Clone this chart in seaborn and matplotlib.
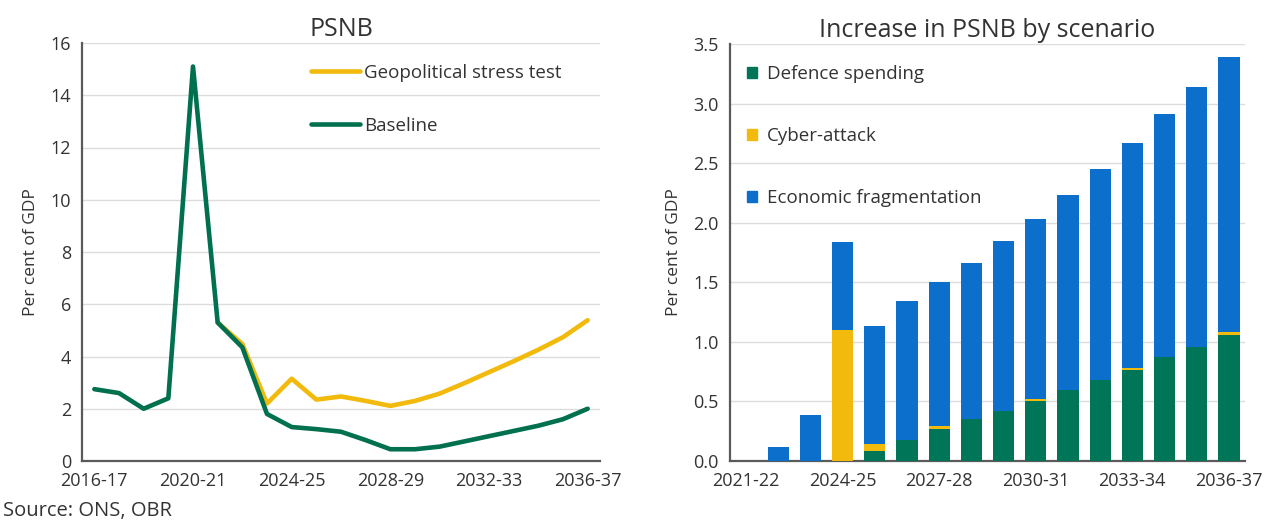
import numpy as np
import pandas as pd
import matplotlib
matplotlib.use("Agg")
import matplotlib.pyplot as plt
from matplotlib.lines import Line2D
from matplotlib.patches import Patch
import seaborn as sns

# ---------------- data ----------------
years_left = ["2016-17", "2017-18", "2018-19", "2019-20", "2020-21", "2021-22", "2022-23",
              "2023-24", "2024-25", "2025-26", "2026-27", "2027-28", "2028-29", "2029-30",
              "2030-31", "2031-32", "2032-33", "2033-34", "2034-35", "2035-36", "2036-37"]
baseline = [2.75, 2.6, 2.0, 2.4, 15.1, 5.3, 4.35, 1.8, 1.3, 1.22, 1.12, 0.8, 0.45, 0.45,
            0.55, 0.75, 0.95, 1.15, 1.35, 1.6, 2.0]
stress_years = years_left[5:]
stress = [5.3, 4.48, 2.2, 3.15, 2.35, 2.47, 2.3, 2.11, 2.3, 2.58, 2.98, 3.4, 3.82, 4.26,
          4.74, 5.39]
left_labels = ["2016-17", "2020-21", "2024-25", "2028-29", "2032-33", "2036-37"]

years_right = ["2021-22", "2022-23", "2023-24", "2024-25", "2025-26", "2026-27", "2027-28",
               "2028-29", "2029-30", "2030-31", "2031-32", "2032-33", "2033-34", "2034-35",
               "2035-36", "2036-37"]
defence = [0.0, 0.0, 0.0, 0.0, 0.08, 0.18, 0.27, 0.35, 0.42, 0.5, 0.6, 0.68, 0.76, 0.87, 0.96, 1.06]
cyber = [0.0, 0.0, 0.0, 1.1, 0.06, 0.0, 0.02, 0.0, 0.0, 0.02, 0.0, 0.0, 0.02, 0.0, 0.0, 0.02]
fragmentation = [0.0, 0.12, 0.39, 0.74, 0.99, 1.16, 1.21, 1.31, 1.43, 1.51, 1.63, 1.77, 1.89,
                 2.04, 2.18, 2.31]
right_labels = ["2021-22", "2024-25", "2027-28", "2030-31", "2033-34", "2036-37"]

# ---------------- style ----------------
GREEN = "#00704F"
BAR_GREEN = "#007558"
YELLOW = "#F2BA0C"
BLUE = "#0C6FCB"
TXT = "#333333"
SPINE = "#5a5a5a"
GRID = "#dcdcdc"

sns.set_theme(style="white")
plt.rcParams["font.family"] = ["Open Sans", "DejaVu Sans"]
plt.rcParams["text.color"] = TXT
plt.rcParams["axes.labelcolor"] = TXT
plt.rcParams["xtick.color"] = TXT
plt.rcParams["ytick.color"] = TXT

fig = plt.figure(figsize=(12.77, 5.30), dpi=100)
axL = fig.add_axes([82 / 1277, 69 / 530, 518 / 1277, 418 / 530])
axR = fig.add_axes([730 / 1277, 69 / 530, 515 / 1277, 417 / 530])

TICKFS = 13
LEGFS = 13.5
TITLEFS = 18
# ---------------- left chart ----------------
dfb = pd.DataFrame({"x": np.arange(len(years_left)), "v": baseline})
dfs = pd.DataFrame({"x": [years_left.index(y) for y in stress_years], "v": stress})
sns.lineplot(data=dfs, x="x", y="v", ax=axL, color=YELLOW, lw=3.3, zorder=3)
sns.lineplot(data=dfb, x="x", y="v", ax=axL, color=GREEN, lw=3.3, zorder=4)
axL.set_xlim(-0.5, len(years_left) - 0.5)
axL.set_ylim(0, 16)
axL.set_yticks(np.arange(0, 17, 2))
axL.set_xticks([years_left.index(l) for l in left_labels])
axL.set_xticklabels(left_labels)
axL.set_xticks(np.arange(-0.5, len(years_left), 1), minor=True)
axL.set_title("PSNB", fontsize=TITLEFS, color=TXT, pad=5)
axL.set_ylabel("Per cent of GDP", fontsize=12.5, labelpad=8)
axL.set_xlabel("")
leg_handles = [Line2D([0], [0], color=YELLOW, lw=3.3), Line2D([0], [0], color=GREEN, lw=3.3)]
axL.legend(leg_handles, ["Geopolitical stress test", "Baseline"], frameon=False,
           loc="upper left", bbox_to_anchor=(0.41, 0.99), fontsize=LEGFS,
           handlelength=2.6, handletextpad=0.2, labelspacing=1.85)
fig.text(0.002, 1 - 511 / 530, "Source: ONS, OBR", fontsize=14.5, color=TXT, ha="left", va="center")

# ---------------- right chart ----------------
x_idx = np.arange(len(years_right))
tot_all = [d + c + f for d, c, f in zip(defence, cyber, fragmentation)]
tot_dc = [d + c for d, c in zip(defence, cyber)]
for vals, col in [(tot_all, BLUE), (tot_dc, YELLOW), (defence, BAR_GREEN)]:
    sns.barplot(x=x_idx, y=vals, ax=axR, color=col, width=0.66, saturation=1,
                native_scale=True, zorder=3, edgecolor="none")
axR.set_xlim(-0.5, len(years_right) - 0.5)
axR.set_ylim(0, 3.5)
axR.set_yticks(np.arange(0, 3.51, 0.5))
axR.set_yticklabels([f"{v:.1f}" for v in np.arange(0, 3.51, 0.5)])
axR.set_xticks([years_right.index(l) for l in right_labels])
axR.set_xticklabels(right_labels)
axR.set_xticks(np.arange(-0.5, len(years_right), 1), minor=True)
axR.set_title("Increase in PSNB by scenario", fontsize=TITLEFS, color=TXT, pad=5)
axR.set_ylabel("Per cent of GDP", fontsize=12.5, labelpad=8)
axR.set_xlabel("")
bar_handles = [Patch(color=BAR_GREEN), Patch(color=YELLOW), Patch(color=BLUE)]
axR.legend(bar_handles, ["Defence spending", "Cyber-attack", "Economic fragmentation"],
           frameon=False, loc="upper left", bbox_to_anchor=(0.0, 0.99), fontsize=LEGFS,
           handlelength=0.55, handleheight=0.55, handletextpad=0.5, labelspacing=2.35)

for ax in (axL, axR):
    for s in ("top", "right"):
        ax.spines[s].set_visible(False)
    for s in ("left", "bottom"):
        ax.spines[s].set_color(SPINE)
        ax.spines[s].set_linewidth(1.6)
    ax.yaxis.grid(True, color=GRID, lw=1.0, zorder=0)
    ax.set_axisbelow(True)
    ax.tick_params(axis="x", which="major", length=0, labelsize=TICKFS, pad=8)
    ax.tick_params(axis="x", which="minor", length=5, width=1.4, color=SPINE, direction="inout")
    ax.tick_params(axis="y", which="major", length=5, width=1.4, color=SPINE, labelsize=TICKFS,
                   direction="out", pad=3)

fig.savefig("out.png", dpi=100, facecolor="white")
